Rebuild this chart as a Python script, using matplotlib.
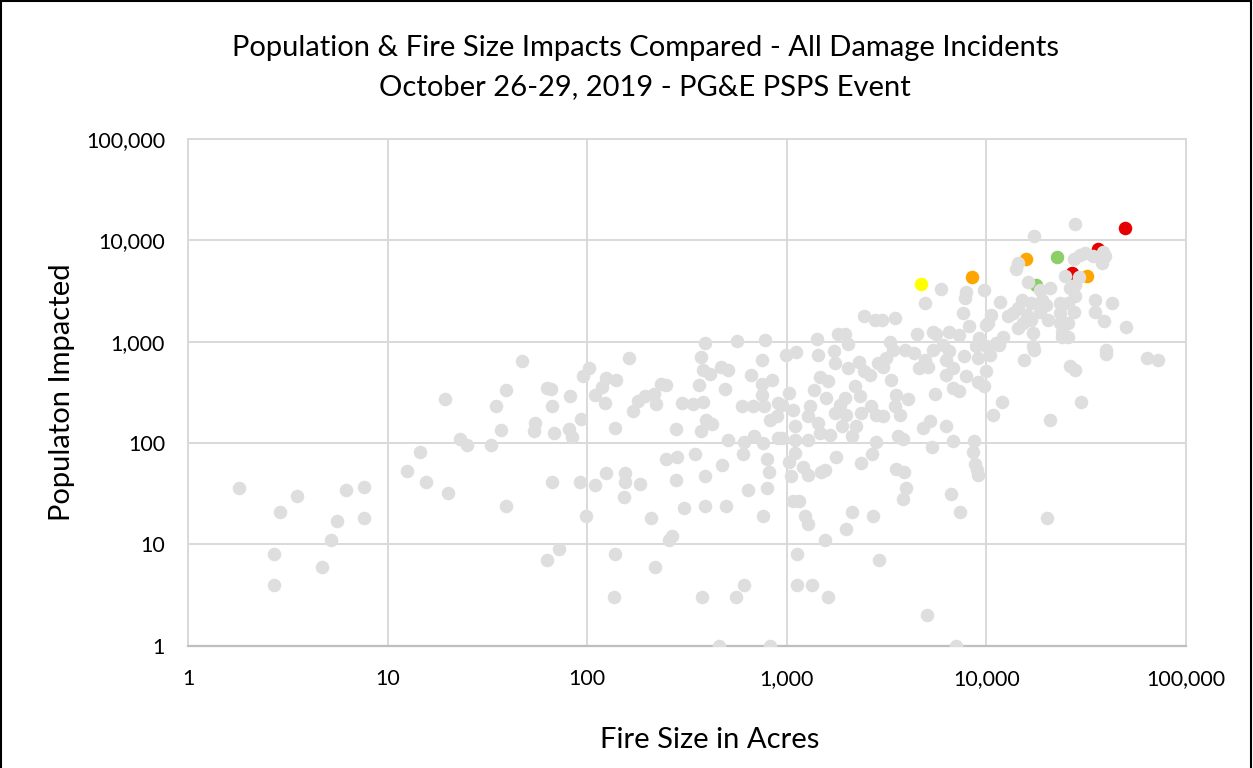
import matplotlib
matplotlib.use("Agg")
import matplotlib.pyplot as plt
from matplotlib.ticker import FuncFormatter, FixedLocator, NullLocator
from matplotlib.patches import Rectangle

plt.rcParams['font.family'] = ['Lato', 'DejaVu Sans']

# ---------------- data (fire size in acres, population impacted) ----------------
grey_acres = [
    1.8, 2.9, 3.5, 6.2, 7.6, 5.6, 7.6, 5.2, 2.7, 4.7, 2.7,
    47, 19.4, 35, 39, 23, 25, 33, 37, 14.5, 12.5, 15.5, 20, 39, 63, 66, 67, 82, 55, 54,
    68, 81, 84, 93, 95, 102, 67, 92, 109, 99, 72, 63, 109,
    162, 390, 560, 780, 370, 750, 380, 410, 470, 510, 660, 840, 750, 365, 490, 124, 139,
    119, 123, 247, 235, 217, 194, 180, 169, 222, 300, 338, 380, 594, 675, 750, 773, 908,
    990, 824, 893, 394, 423, 279, 138,
    506, 608, 688, 764, 908, 600, 792, 817, 247, 281, 348, 476, 391, 278, 183, 154, 154,
    153, 124, 209, 307, 390, 495, 636, 792, 756, 258, 267, 138, 219, 136, 375, 559, 608,
    456, 827, 372,
    5900, 7900, 7850, 9700, 4900, 7600, 8200, 9970, 2450, 2760, 3000, 3470, 4500, 5400,
    5600, 6500, 7300, 1810, 1950, 2030, 1420, 3270, 3400, 1110, 1430, 1720, 1740, 2290,
    2030, 2450, 2600, 2860, 3030, 3150, 3890, 4360, 4900, 5090, 4620, 5390, 6050, 6530,
    6280, 6790, 6280, 7760, 8880, 9230, 9060, 7910, 9060, 9770, 1460, 1610, 1370, 2190,
    2320, 3340, 3540, 4040, 5530, 6790, 7330, 1030, 1070, 950, 1300, 1570, 1840, 1950,
    1740, 1990, 2360, 2650, 2810, 3030, 3470, 3680, 1280, 1430, 1100, 1880, 2230, 5190,
    6280, 4800,
    945, 1100, 1280, 1460, 1640, 2110, 2810, 3600, 3810, 5350, 6790, 8710, 8530, 8800,
    9020, 9060, 1100, 1030, 1770, 2680, 2360, 1210, 1280, 1050, 1490, 1550, 3540, 3850,
    3970, 3810, 6630, 7410, 1070, 1150, 1240, 1280, 2120, 2700, 1990, 1560, 1120, 2910,
    1130, 1330, 1600, 5050, 7050,
    27900, 17300, 14400, 14000, 29400, 31100, 27400, 38300, 39100, 38100, 34200, 24700,
    29100, 27700, 26200, 27900, 35100, 42800, 35100, 38700, 50200, 16100, 20800, 18500,
    11700, 15000, 14400, 16800, 18900, 20000, 23300, 25600, 23300, 27500, 13600, 12900,
    15900, 18500, 10600, 10200, 20400, 23300, 25600, 15300, 16800, 14400, 17100, 23800,
    23800, 25600, 12100, 11200, 17100, 39900, 10000, 11500, 10400, 10000, 15400, 17300,
    26200, 27700, 39900, 63900, 72800, 12000, 10800, 20800, 29800, 20200,
]
grey_pop = [
    36, 21, 30, 34, 37, 17, 18, 11, 8, 6, 4,
    650, 270, 230, 330, 110, 95, 95, 135, 82, 53, 41, 32, 24, 350, 340, 230, 290, 157, 131,
    124, 136, 114, 174, 460, 545, 41, 41, 38, 19, 9, 7, 300,
    690, 970, 1020, 1040, 700, 660, 520, 480, 560, 520, 465, 420, 380, 370, 340, 440, 420,
    360, 250, 370, 385, 307, 290, 257, 208, 243, 250, 243, 254, 230, 230, 300, 230, 248,
    730, 170, 183, 170, 155, 137, 141,
    108, 101, 116, 100, 112, 78, 70, 52, 69, 73, 77, 61, 47, 43, 39, 50, 41,
    29, 51, 18, 23, 24, 24, 34, 36, 19, 11, 12, 8, 6, 3, 3, 3, 4,
    1, 1, 130,
    3300, 3100, 2700, 3200, 2400, 1900, 1440, 1460, 1800, 1640, 1640, 1700, 1190, 1240,
    1180, 1250, 1160, 1190, 1190, 955, 1060, 1000, 835, 790, 730, 816, 616, 625,
    550, 510, 465, 616, 563, 690, 835, 774, 664, 563, 550, 835, 934, 803,
    664, 550, 472, 716, 897, 1080, 691, 454, 397, 362, 444, 406, 336, 368,
    288, 422, 300, 274, 307, 349, 323, 311, 213, 239, 230, 278, 239, 278,
    198, 190, 198, 230, 190, 186, 233, 190, 183, 158, 146, 146, 146, 163,
    146, 141,
    112, 108, 108, 125, 121, 116, 101, 116, 110, 92, 104, 104, 82, 62,
    54, 48, 79, 65, 73, 78, 63, 58, 48, 47, 52, 54, 55, 52,
    36, 28, 31, 21, 27, 27, 19, 16, 21, 19, 14, 11, 8, 7,
    4, 4, 3, 2, 1,
    14400, 11000, 5950, 5200, 7200, 7560, 6500, 7700, 7000, 5950, 7000, 4450,
    4300, 3630, 3370, 2850, 2580, 2390, 1980, 1610, 1390, 3900, 3420, 3240,
    2480, 2580, 2140, 2390, 2580, 2300, 2390, 2390, 1910, 1980, 1910, 1770,
    1830, 1980, 1830, 1520, 1640, 1520, 1520, 1520, 1640, 1360, 1210, 1250,
    1120, 1120, 1120, 970, 897, 835, 900, 934, 744, 510, 654, 835,
    570, 520, 762, 690, 664, 252, 190, 170, 256, 18,
]

red_acres = [49600, 36200, 26700]
red_pop = [13300, 8200, 4800]
orange_acres = [15700, 8500, 31900]
orange_pop = [6500, 4300, 4450]
yellow_acres = [4700]
yellow_pop = [3700]
green_acres = [22500, 17700]
green_pop = [6900, 3600]

tick_values = [1, 10, 100, 1000, 10000, 100000]

title_line1 = "Population & Fire Size Impacts Compared - All Damage Incidents"
title_line2 = "October 26-29, 2019 - PG&E PSPS Event"
x_label = "Fire Size in Acres"
y_label = "Populaton Impacted"

# ---------------- figure ----------------
W, H = 1253, 768
fig = plt.figure(figsize=(W / 100, H / 100), dpi=100)
ax = fig.add_axes([188 / W, 1 - 645.5 / H, (1186 - 188) / W, (645.5 - 139) / H])

ax.set_xscale('log')
ax.set_yscale('log')
ax.set_xlim(1, 100000)
ax.set_ylim(1, 100000)

ms = 95
ax.scatter(red_acres, red_pop, s=ms, color='#E60000', linewidths=0, zorder=3)
ax.scatter(orange_acres, orange_pop, s=ms, color='#FFA500', linewidths=0, zorder=3)
ax.scatter(yellow_acres, yellow_pop, s=ms, color='#FFFF00', linewidths=0, zorder=3)
ax.scatter(green_acres, green_pop, s=ms, color='#8CCF66', linewidths=0, zorder=3)
ax.scatter(grey_acres, grey_pop, s=ms, color='#DEDEDE', linewidths=0, zorder=4)

fmt = FuncFormatter(lambda v, p: f"{v:,.0f}")
for axis in (ax.xaxis, ax.yaxis):
    axis.set_major_locator(FixedLocator(tick_values))
    axis.set_minor_locator(NullLocator())
    axis.set_major_formatter(fmt)

ax.grid(True, which='major', color='#D9D9D9', linewidth=1.4, zorder=0)
ax.set_axisbelow(True)
for side in ('top', 'right', 'left'):
    ax.spines[side].set_color('#D9D9D9')
    ax.spines[side].set_linewidth(1.4)
ax.spines['bottom'].set_color('#BFBFBF')
ax.spines['bottom'].set_linewidth(1.6)

ax.tick_params(axis='both', length=0, labelsize=15.5, colors='#000000')
ax.tick_params(axis='x', pad=17)
ax.tick_params(axis='y', pad=16.5)

fig.text(645 / W, 1 - 48 / H, title_line1, ha='center', va='center', fontsize=21)
fig.text(645 / W, 1 - 87 / H, title_line2, ha='center', va='center', fontsize=21)
fig.text(710 / W, 1 - 740 / H, x_label, ha='center', va='center', fontsize=21)
fig.text(62 / W, 1 - 392 / H, y_label, ha='center', va='center', fontsize=21, rotation=90)

fig.add_artist(Rectangle((0.8 / W, -0.05), (W - 2.5) / W, 1.05 - 1.0 / H,
                         transform=fig.transFigure, fill=False,
                         edgecolor='black', linewidth=1.5))

fig.savefig('out.png', dpi=100)
